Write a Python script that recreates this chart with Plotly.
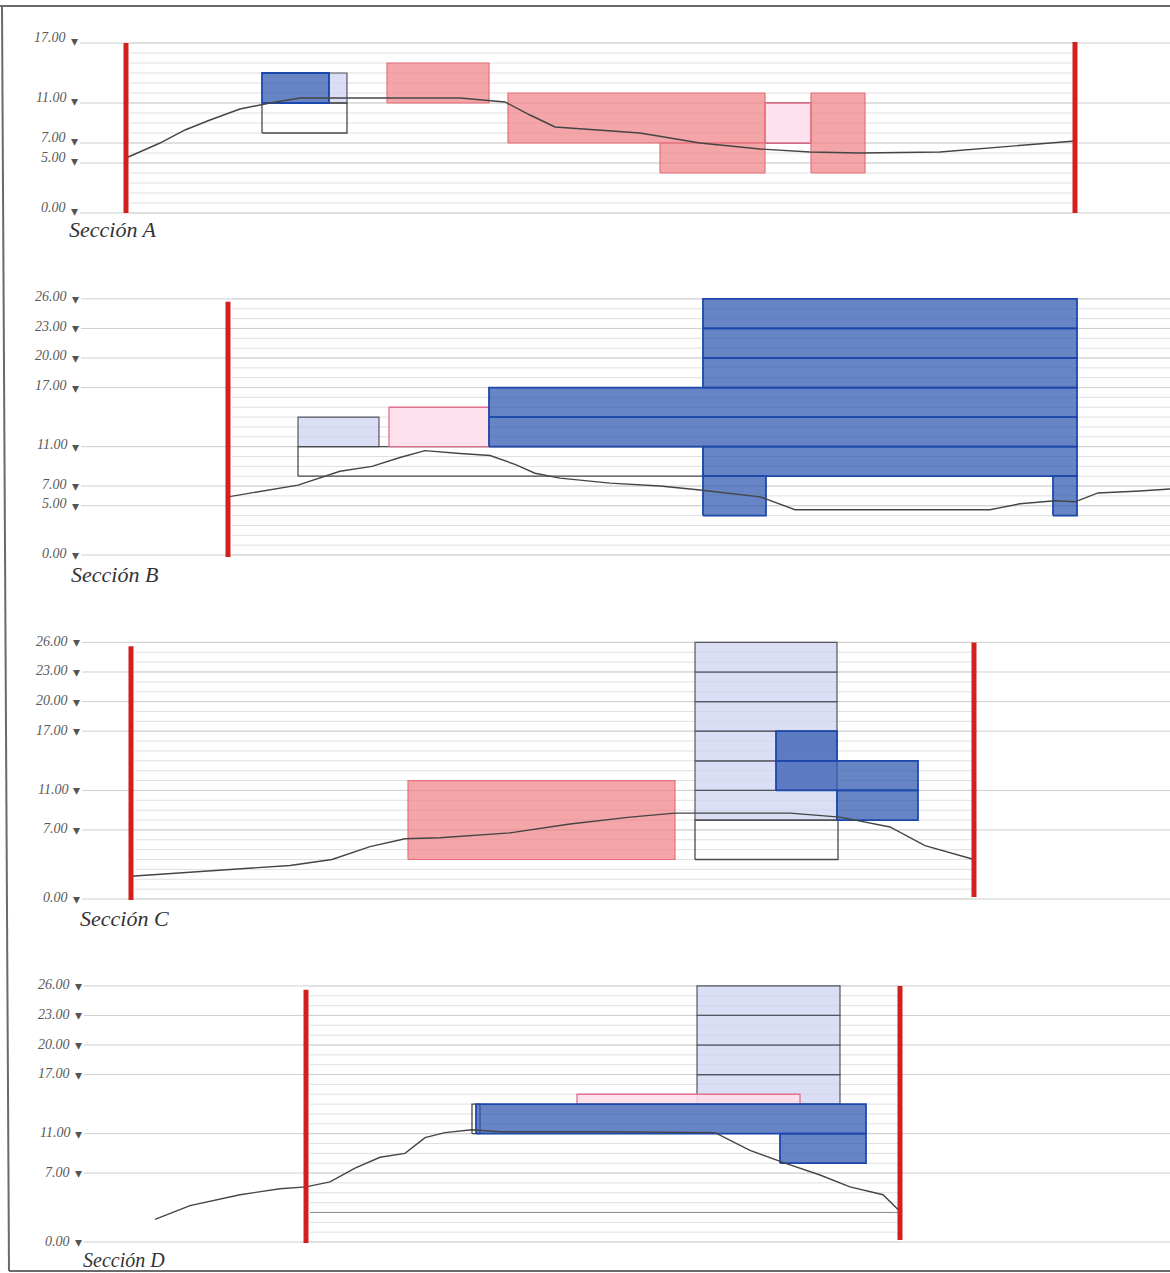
import plotly.graph_objects as go

W, H = 1170, 1273

# Section names and level labels
sections = ["A", "B", "C", "D"]
labels_major = {
    "A": [17, 11, 7, 5, 0],
    "B": [26, 23, 20, 17, 11, 7, 5, 0],
    "C": [26, 23, 20, 17, 11, 7, 0],
    "D": [26, 23, 20, 17, 11, 7, 0],
}
top_level = {"A": 17, "B": 26, "C": 26, "D": 26}
title_x = {"A": 67, "B": 69, "C": 78, "D": 81}
title_shift = {"A": -17, "B": -19, "C": -20, "D": -18}
title_size = {"A": 22, "B": 22, "C": 22, "D": 20}
label_right = {"A": 80, "B": 81, "C": 82, "D": 84}
label_shift = {"A": 5, "B": 2, "C": 1, "D": 1}
mark_shift = {"A": 2, "B": 0, "C": 0, "D": 0}

# Extent of the fine level lines
fine_x = {"A": (130, 1075), "B": (232, 1170), "C": (135, 974), "D": (310, 900)}

# Boundary walls: x, bottom level, top level
walls = {
    "A": [(126, 0, 17), (1075, 0, 17.1)],
    "B": [(228, -0.2, 25.7)],
    "C": [(131, -0.1, 25.6), (974, 0.2, 26)],
    "D": [(306, -0.1, 25.6), (900, 0.2, 26)],
}

# Terrain profile
terrain_x = {
    "A": [126, 160, 185, 210, 240, 270, 300, 380, 460, 505, 530, 555, 640, 700, 760, 810, 860, 940, 990, 1075],
    "B": [228, 265, 298, 340, 372, 400, 425, 460, 490, 515, 535, 560, 610, 660, 700, 760, 795, 860, 990, 1020, 1055, 1075, 1098, 1140, 1170],
    "C": [131, 200, 290, 332, 370, 405, 440, 510, 570, 630, 675, 790, 840, 890, 925, 974],
    "D": [155, 190, 240, 280, 306, 330, 355, 380, 405, 425, 445, 472, 500, 600, 715, 750, 785, 820, 850, 883, 900],
}
terrain_y = {
    "A": [5.5, 7.0, 8.3, 9.3, 10.4, 11.0, 11.5, 11.5, 11.5, 11.1, 9.8, 8.6, 8.0, 7.0, 6.4, 6.1, 6.0, 6.1, 6.5, 7.2],
    "B": [5.9, 6.5, 7.1, 8.5, 9.0, 9.9, 10.6, 10.3, 10.1, 9.2, 8.3, 7.8, 7.3, 7.0, 6.6, 5.9, 4.6, 4.6, 4.6, 5.2, 5.5, 5.4, 6.3, 6.5, 6.7],
    "C": [2.3, 2.8, 3.4, 4.0, 5.3, 6.1, 6.2, 6.7, 7.6, 8.3, 8.7, 8.7, 8.3, 7.3, 5.4, 4.0],
    "D": [2.3, 3.7, 4.8, 5.4, 5.6, 6.1, 7.5, 8.6, 9.0, 10.6, 11.1, 11.4, 11.2, 11.2, 11.1, 9.3, 8.0, 6.8, 5.6, 4.8, 3.1],
}

# Volumes: x start, x end, bottom level, top level
empty_boxes = {
    "A": [(262, 347, 8, 11), (765, 811, 7, 11)],
    "B": [(298, 703, 8, 11)],
    "C": [(695, 838, 4, 8)],
    "D": [(472, 480, 11, 14)],
}
light_blue = {
    "A": [(329, 347, 11, 14)],
    "B": [(298, 379, 11, 14)],
    "C": [(695, 837, 8, 11), (695, 837, 11, 14), (695, 837, 14, 17),
          (695, 837, 17, 20), (695, 837, 20, 23), (695, 837, 23, 26)],
    "D": [(697, 840, 14, 17), (697, 840, 17, 20), (697, 840, 20, 23), (697, 840, 23, 26)],
}
pink = {
    "A": [(765, 811, 7, 11)],
    "B": [(389, 489, 11, 15)],
    "C": [],
    "D": [(577, 800, 14, 15)],
}
red = {
    "A": [(387, 489, 11, 15), (508, 765, 7, 12), (660, 765, 4, 7), (811, 865, 4, 12)],
    "B": [],
    "C": [(408, 675, 4, 12)],
    "D": [],
}
blue = {
    "A": [(262, 329, 11, 14)],
    "B": [(489, 1077, 11, 14), (489, 1077, 14, 17), (703, 1077, 17, 20), (703, 1077, 20, 23),
          (703, 1077, 23, 26), (703, 1077, 8, 11), (703, 766, 4, 8), (1053, 1077, 4, 8)],
    "C": [(776, 837, 14, 17), (776, 918, 11, 14), (837, 918, 8, 11)],
    "D": [(476, 866, 11, 14), (780, 866, 8, 11)],
}

# Pixel position of level 0 and pixels per level, for the panel layout
base_px = {"A": 213, "B": 555, "C": 899, "D": 1242}
scale_px = {"A": 10.0, "B": 9.85, "C": 9.87, "D": 9.85}
PAD = 1.0

styles = {
    "empty": ("rgba(255,255,255,0)", "#4a4a4a", 1.3),
    "light": ("rgba(205,212,242,0.75)", "#55555f", 1.2),
    "pink": ("rgba(253,222,235,0.9)", "#e2708c", 1.3),
    "red": ("rgba(238,130,135,0.72)", "#e8707c", 1.2),
    "blue": ("rgba(45,85,175,0.72)", "#1c48ac", 1.8),
}

fig = go.Figure()
layout = dict(
    width=W, height=H, margin=dict(l=0, r=0, t=0, b=0),
    paper_bgcolor="white", plot_bgcolor="rgba(0,0,0,0)", showlegend=False,
    xaxis=dict(range=[0, W], domain=[0, 1], visible=False, fixedrange=True),
)
annotations = []
FONT = "Liberation Serif"


def add_rect(r, style, yref):
    fill, line, width = styles[style]
    x0, x1, y0, y1 = r
    fig.add_trace(go.Scatter(
        x=[x0, x1, x1, x0, x0], y=[y0, y0, y1, y1, y0], mode="lines", fill="toself",
        fillcolor=fill, line=dict(color=line, width=width), hoverinfo="skip", yaxis=yref))


for i, s in enumerate(sections):
    yref = "y" if i == 0 else f"y{i + 1}"
    yname = "yaxis" if i == 0 else f"yaxis{i + 1}"
    top = top_level[s]
    bottom_px = base_px[s] + PAD * scale_px[s]
    top_px = base_px[s] - (top + PAD) * scale_px[s]
    layout[yname] = dict(
        domain=[1 - bottom_px / H, 1 - top_px / H], range=[-PAD, top + PAD],
        visible=False, fixedrange=True, anchor="x",
    )

    # fine level lines between the walls
    fx0, fx1 = fine_x[s]
    gx, gy = [], []
    for lv in range(0, top + 1):
        gx += [fx0, fx1, None]
        gy += [lv, lv, None]
    fig.add_trace(go.Scatter(x=gx, y=gy, mode="lines", line=dict(color="#e0e0e0", width=1),
                             hoverinfo="skip", yaxis=yref))
    # labelled level lines
    mx, my = [], []
    for lv in labels_major[s]:
        mx += [label_right[s], W, None]
        my += [lv, lv, None]
    fig.add_trace(go.Scatter(x=mx, y=my, mode="lines", line=dict(color="#cfcfcf", width=1),
                             hoverinfo="skip", yaxis=yref))
    if s == "D":
        fig.add_trace(go.Scatter(x=[fx0, fx1], y=[3, 3], mode="lines",
                                 line=dict(color="#8c8c8c", width=1), hoverinfo="skip", yaxis=yref))

    for r in light_blue[s]:
        add_rect(r, "light", yref)
    for r in empty_boxes[s]:
        add_rect(r, "empty", yref)
    for r in pink[s]:
        add_rect(r, "pink", yref)
    for r in red[s]:
        add_rect(r, "red", yref)
    for r in blue[s]:
        add_rect(r, "blue", yref)

    fig.add_trace(go.Scatter(x=terrain_x[s], y=terrain_y[s], mode="lines",
                             line=dict(color="#454545", width=1.4), hoverinfo="skip", yaxis=yref))
    for wx, w0, w1 in walls[s]:
        fig.add_trace(go.Scatter(x=[wx, wx], y=[w0, w1], mode="lines",
                                 line=dict(color="#d2201f", width=5), hoverinfo="skip", yaxis=yref))

    for lv in labels_major[s]:
        annotations.append(dict(
            x=label_right[s] - 13, y=lv, xref="x", yref=yref, yshift=label_shift[s], xanchor="right",
            yanchor="middle", xshift=1,
            text=f"<i>{lv:.2f}</i>", showarrow=False, font=dict(family=FONT, size=14, color="#5a5a5a")))
        annotations.append(dict(
            x=label_right[s] - 6, y=lv, xref="x", yref=yref, yshift=mark_shift[s], xanchor="center",
            yanchor="middle",
            text="▾", showarrow=False, font=dict(family="DejaVu Sans", size=14, color="#555555")))
    annotations.append(dict(
        x=title_x[s], y=0, xref="x", yref=yref, yshift=title_shift[s], xanchor="left", yanchor="middle",
        text=f"<i>Sección {s}</i>", showarrow=False, font=dict(family=FONT, size=title_size[s], color="#333333")))

# scanned page frame
frame = [
    dict(type="line", xref="x", yref="paper", x0=0, x1=W, y0=1 - 6 / H, y1=1 - 6 / H),
    dict(type="line", xref="x", yref="paper", x0=2, x1=9, y0=1 - 6 / H, y1=1 - 1271 / H),
    dict(type="line", xref="x", yref="paper", x0=9, x1=W, y0=1 - 1271 / H, y1=1 - 1271 / H),
]
for f in frame:
    f["line"] = dict(color="#6a6a6a", width=2)

layout["annotations"] = annotations
layout["shapes"] = frame
fig.update_layout(**layout)
fig.write_html("out.html", config={"displayModeBar": False},
               post_script="document.body.style.margin='0';document.body.style.overflow='hidden';")
